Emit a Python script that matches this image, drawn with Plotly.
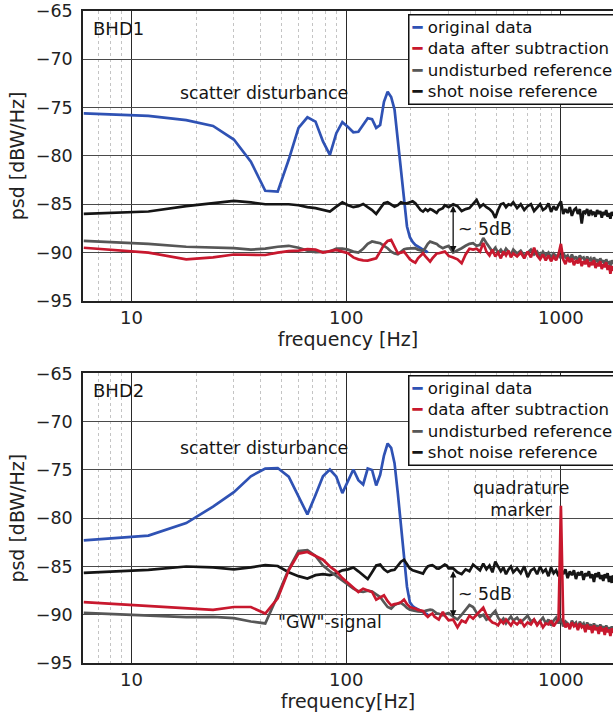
import math
import plotly.graph_objects as go

# ---------------- data ----------------
# frequency bins (Hz): 6 Hz spacing to 300 Hz, 15 Hz to 600 Hz, 25 Hz to 1750 Hz
FREQ = list(range(6, 301, 6)) + list(range(315, 601, 15)) + list(range(625, 1751, 25))

# ---- BHD1 ----
bhd1_original = [
    -75.6, -75.85, -76.3, -76.9, -78.3, -80.6, -83.6, -83.7, -80.4, -77.1,
    -76.0, -76.45, -78.5, -79.9, -77.65, -76.5, -77.0, -77.55, -77.5, -76.8,
    -76.1, -76.2, -77.1, -76.8, -74.4, -73.35, -73.9, -75.2, -78.3, -81.8,
    -84.5, -87.3, -88.4, -88.9, -89.2, -89.4, -89.6, -89.7, -89.8, -90.0]

bhd1_shot = [
    -86.0, -85.75, -85.2, -84.9, -84.65, -84.8, -85.0, -85.0, -85.0, -85.1,
    -85.3, -85.4, -85.55, -85.76, -85.25, -84.8, -85.1, -85.3, -85.2, -84.97,
    -85.3, -85.6, -86.0, -85.4, -84.9, -84.8, -85.0, -85.25, -85.1, -84.8,
    -84.9, -84.9, -84.8, -84.7, -84.9, -85.3, -85.6, -85.76, -85.5, -85.7,
    -85.5, -85.6, -85.8, -85.9, -85.6, -85.5, -85.4, -85.1, -85.2, -85.3,
    -85.0, -85.2, -85.7, -85.5, -85.4, -85.0, -84.55, -85.3, -85.0, -85.3,
    -85.5, -85.8, -86.4, -85.6, -85.0, -84.9, -85.3, -85.0, -85.1, -84.8,
    -85.4, -85.0, -85.6, -85.2, -85.0, -85.7, -85.3, -85.0, -85.6, -85.4,
    -84.9, -85.8, -85.2, -85.6, -85.1, -84.7, -86.0, -85.5, -85.9, -85.3,
    -86.2, -85.6, -85.4, -86.0, -85.5, -87.0, -85.7, -85.9, -85.5, -86.2,
    -85.6, -86.0, -85.8, -86.3, -85.6, -86.0, -85.7, -86.4, -85.8, -86.1,
    -85.6, -86.3, -85.9, -86.5, -85.8, -86.2]

bhd1_undisturbed = [
    -88.8, -89.1, -89.4, -89.45, -89.55, -89.7, -89.6, -89.4, -89.3, -89.5,
    -89.8, -89.96, -89.96, -89.9, -89.6, -89.6, -89.7, -89.9, -90.0, -89.6,
    -89.1, -88.85, -88.95, -89.03, -89.3, -89.55, -89.9, -90.1, -90.17, -89.9,
    -89.65, -89.6, -89.6, -89.55, -89.55, -89.7, -89.8, -89.83, -89.5, -89.1,
    -88.87, -88.95, -89.05, -89.1, -89.3, -89.45, -89.55, -89.45, -89.35, -89.31,
    -90.0, -89.8, -89.55, -89.3, -89.1, -89.03, -89.3, -89.2, -88.5, -89.0,
    -89.4, -89.9, -89.5, -90.0, -89.7, -90.1, -89.6, -89.9, -90.2, -89.7,
    -90.1, -89.8, -90.3, -90.0, -89.7, -90.2, -89.9, -90.4, -89.9, -90.3,
    -90.0, -90.5, -90.1, -90.4, -90.2, -90.6, -90.0, -90.5, -90.3, -90.8,
    -90.2, -90.7, -90.4, -90.9, -90.3, -90.6, -90.5, -91.0, -90.4, -90.8,
    -90.6, -91.1, -90.5, -90.9, -90.7, -91.2, -90.6, -91.0, -90.8, -91.3,
    -90.7, -91.1, -91.0, -91.4, -90.8, -91.2]

bhd1_subtracted = [
    -89.5, -90.0, -90.7, -90.5, -90.2, -90.2, -90.25, -90.0, -89.85, -89.8,
    -89.65, -89.7, -90.0, -89.85, -89.72, -89.9, -90.07, -90.5, -90.7, -90.8,
    -90.83, -90.7, -90.59, -89.9, -89.2, -88.8, -88.69, -89.4, -90.07, -90.0,
    -89.9, -90.3, -90.7, -90.9, -91.04, -90.6, -90.3, -90.07, -90.4, -90.7,
    -90.93, -90.6, -90.3, -90.1, -90.07, -90.0, -89.95, -89.9, -90.1, -90.35,
    -90.5, -90.7, -91.1, -90.2, -89.6, -89.7, -89.6, -89.9, -89.0, -89.9,
    -90.3, -89.7, -90.4, -90.0, -90.6, -89.9, -90.3, -89.8, -90.5, -90.1,
    -90.4, -90.0, -90.6, -89.9, -90.5, -89.5, -90.3, -90.7, -90.2, -90.8,
    -90.3, -90.9, -90.4, -90.8, -90.2, -89.1, -90.7, -91.2, -90.5, -91.0,
    -90.6, -91.3, -90.8, -91.1, -90.6, -91.4, -90.9, -91.2, -90.7, -91.5,
    -91.0, -91.3, -90.8, -91.6, -91.1, -91.4, -90.9, -91.7, -91.2, -91.5,
    -91.0, -91.8, -91.3, -92.2, -91.4, -91.9]

# ---- BHD2 ----
bhd2_original = [
    -82.3, -81.8, -80.5, -78.8, -77.3, -75.65, -74.85, -74.8, -75.7, -77.8,
    -79.6, -77.6, -75.65, -74.95, -75.7, -77.4, -76.06, -74.95, -76.06, -76.5,
    -74.85, -75.0, -76.6, -75.5, -73.5, -72.26, -72.7, -74.3, -77.4, -80.9,
    -84.4, -87.1, -88.7, -89.1, -89.3, -89.45, -89.55, -89.7, -89.8, -90.0]

bhd2_shot = [
    -85.67, -85.35, -85.0, -85.1, -85.3, -85.1, -84.85, -84.95, -85.6, -86.0,
    -86.25, -85.9, -85.8, -85.9, -85.7, -85.4, -85.3, -85.1, -85.5, -85.9,
    -86.3, -85.6, -84.9, -84.8, -85.3, -85.57, -85.4, -85.35, -84.9, -84.5,
    -84.3, -84.7, -85.2, -85.4, -85.5, -85.6, -85.7, -85.74, -85.3, -85.0,
    -84.9, -84.87, -85.0, -85.2, -85.22, -85.1, -84.9, -84.8, -84.9, -85.2,
    -85.2, -85.6, -85.8, -85.3, -85.5, -84.8, -85.1, -85.4, -84.7, -85.3,
    -84.9, -85.6, -84.5, -85.0, -85.5, -85.1, -85.8, -85.3, -85.0, -85.6,
    -85.2, -85.7, -85.0, -86.1, -85.4, -85.2, -85.8, -85.0, -85.6, -85.3,
    -86.0, -85.1, -85.7, -85.4, -86.0, -85.2, -85.8, -85.3, -86.2, -85.5,
    -85.9, -85.4, -86.3, -85.6, -85.9, -85.5, -86.4, -85.7, -86.0, -85.5,
    -86.2, -85.8, -86.6, -85.7, -86.1, -85.6, -86.3, -85.9, -86.5, -85.8,
    -86.2, -85.7, -86.6, -86.0, -86.7, -85.9]

bhd2_undisturbed = [
    -89.8, -90.1, -90.25, -90.23, -90.35, -90.7, -90.9, -88.0, -85.3, -83.4,
    -83.3, -83.9, -84.9, -85.5, -86.0, -86.5, -86.9, -87.3, -87.55, -87.64,
    -87.5, -87.6, -87.9, -88.16, -88.7, -89.2, -89.36, -89.0, -88.85, -88.78,
    -89.0, -89.3, -89.47, -89.5, -89.6, -89.65, -89.7, -89.71, -89.6, -89.5,
    -89.47, -89.5, -89.7, -89.85, -89.9, -90.0, -90.06, -89.95, -89.85, -89.82,
    -90.2, -90.5, -90.0, -89.5, -89.0, -89.2, -89.8, -90.2, -90.0, -90.5,
    -90.3, -89.9, -89.6, -90.3, -90.7, -90.4, -90.9, -90.5, -90.2, -90.6,
    -90.3, -90.8, -90.4, -90.1, -90.7, -90.5, -91.0, -90.6, -90.3, -90.9,
    -90.5, -91.1, -90.6, -90.3, -90.9, -90.4, -91.2, -90.7, -90.9, -91.3,
    -90.6, -91.0, -90.8, -91.4, -90.7, -91.1, -90.9, -91.5, -90.8, -91.2,
    -91.0, -91.6, -90.9, -91.3, -91.1, -91.7, -91.0, -91.4, -91.2, -91.8,
    -91.1, -91.5, -91.3, -91.9, -91.2, -91.6]

bhd2_subtracted = [
    -88.7, -89.1, -89.4, -89.5, -89.2, -89.2, -89.88, -88.3, -85.4, -83.66,
    -83.5, -83.9, -84.3, -85.0, -85.5, -86.2, -86.7, -87.2, -87.64, -87.3,
    -87.5, -87.64, -88.43, -88.2, -87.98, -88.6, -89.02, -88.9, -88.84, -88.7,
    -88.43, -88.9, -89.19, -89.3, -89.36, -89.5, -89.55, -89.61, -90.0, -90.23,
    -90.0, -89.88, -90.2, -90.4, -90.5, -90.1, -89.71, -90.1, -90.4, -90.57,
    -90.5, -91.3, -90.6, -90.8, -90.1, -90.4, -90.0, -89.6, -89.26, -90.0,
    -90.5, -90.8, -90.9, -91.1, -90.6, -90.9, -90.5, -90.8, -91.1, -90.7,
    -91.0, -90.6, -91.2, -90.8, -91.0, -90.5, -91.1, -90.7, -91.3, -90.9,
    -91.0, -90.6, -91.2, -90.8, -90.5, -78.7, -90.6, -91.3, -90.9, -91.5,
    -90.8, -91.2, -91.0, -91.6, -90.9, -91.3, -91.1, -91.8, -91.0, -91.5,
    -91.2, -91.9, -91.1, -91.6, -91.3, -92.0, -91.2, -91.7, -91.4, -92.1,
    -91.3, -91.8, -91.5, -92.2, -91.4, -91.9]

SERIES_NAMES = ["original data", "data after subtraction",
                "undisturbed reference", "shot noise reference"]
COLORS = {"original data": "#2f52b4", "data after subtraction": "#c8182e",
          "undisturbed reference": "#575757", "shot noise reference": "#151515"}

Y_TICKS = [-95, -90, -85, -80, -75, -70, -65]
X_TICKS = [10, 100, 1000]
X_TICKTEXT = ["10", "100", "1000"]
MINOR_X = [6, 7, 8, 9, 20, 30, 40, 50, 60, 70, 80, 90,
           200, 300, 400, 500, 600, 700, 800, 900]

FONT = "DejaVu Sans"

panels = [
    dict(xa="x", ya="y", label="BHD1", legend_y=0.9954,
         data={"original data": bhd1_original, "data after subtraction": bhd1_subtracted,
               "undisturbed reference": bhd1_undisturbed, "shot noise reference": bhd1_shot}),
    dict(xa="x2", ya="y2", label="BHD2", legend_y=0.4417,
         data={"original data": bhd2_original, "data after subtraction": bhd2_subtracted,
               "undisturbed reference": bhd2_undisturbed, "shot noise reference": bhd2_shot}),
]

fig = go.Figure()
draw_order = ["original data", "shot noise reference", "undisturbed reference", "data after subtraction"]
for p in panels:
    for name in draw_order:
        vals = p["data"][name]
        fig.add_trace(go.Scatter(
            x=FREQ[:len(vals)], y=vals, mode="lines", name=name,
            line=dict(color=COLORS[name], width=2.7),
            xaxis=p["xa"], yaxis=p["ya"], showlegend=False,
        ))

def xaxis_cfg(anchor, title):
    return dict(
        type="log", range=[0.7746, 3.2426], anchor=anchor, automargin=False,
        tickmode="array", tickvals=X_TICKS, ticktext=X_TICKTEXT,
        showgrid=True, gridcolor="#2a2a2a", gridwidth=1.2,
        minor=dict(tickmode="array", tickvals=MINOR_X, showgrid=True,
                   gridcolor="#c4c4c4", griddash="dot", gridwidth=1, ticks=""),
        showline=True, linecolor="#222", linewidth=1.5, mirror=True,
        ticks="", tickfont=dict(family=FONT, size=18, color="#222"),
        title=dict(text=title, font=dict(family=FONT, size=19, color="#222"), standoff=4),
        zeroline=False,
    )

def yaxis_cfg(anchor, domain):
    return dict(
        range=[-95, -65], domain=domain, anchor=anchor, automargin=False,
        tickmode="array", tickvals=Y_TICKS,
        showgrid=True, gridcolor="#4a4a4a", gridwidth=1.2,
        showline=True, linecolor="#222", linewidth=1.5, mirror=False,
        ticks="", ticklabelstandoff=5,
        tickfont=dict(family=FONT, size=17.5, color="#222"),
        title=dict(text="psd [dBW/Hz]", font=dict(family=FONT, size=19, color="#222"), standoff=6),
        zeroline=False,
    )

fig.update_layout(
    width=613, height=714,
    margin=dict(l=83, r=0, t=11, b=51),
    paper_bgcolor="white", plot_bgcolor="white",
    font=dict(family=FONT, color="#222"),
    xaxis=xaxis_cfg("y", "frequency [Hz]"),
    yaxis=yaxis_cfg("x", [0.5554, 1.0]),
    xaxis2=xaxis_cfg("y2", "frequency[Hz]"),
    yaxis2=yaxis_cfg("x2", [0.0, 0.4441]),
)

L = math.log10
ann_font = dict(family=FONT, size=17.3, color="#151515")

# legend key: one line per series, short coloured dash + name
legend_lines = []
for name in SERIES_NAMES:
    pad = "&nbsp;&nbsp;&nbsp;" if name == "data after subtraction" else ""
    legend_lines.append(f"<span style='color:{COLORS[name]}'>━</span> {name}{pad}")
legend_text = "<br>".join(legend_lines)

annotations = []
for p, sc_y, arrow_top, arrow_bot, db_y in [
        (panels[0], -73.5, -85.0, -90.0, -87.55),
        (panels[1], -72.74, -85.3, -90.2, -87.81)]:
    xr, yr = p["xa"], p["ya"]
    annotations.append(dict(text=legend_text, xref="paper", yref="paper",
                            x=0.6132, y=p["legend_y"], xanchor="left", yanchor="top",
                            align="left", showarrow=False, bgcolor="white",
                            bordercolor="#111", borderwidth=1.5, borderpad=2,
                            font=dict(family=FONT, size=16.6, color="#111")))
    annotations.append(dict(text=p["label"], xref=xr + " domain", yref=yr + " domain",
                            x=0.016, y=0.94, xanchor="left", yanchor="middle",
                            showarrow=False, font=dict(family=FONT, size=18, color="#151515")))
    annotations.append(dict(text="scatter disturbance", xref=xr, yref=yr,
                            x=L(41.3), y=sc_y, showarrow=False, font=ann_font))
    annotations.append(dict(text="", xref=xr, yref=yr, axref=xr, ayref=yr,
                            x=L(315), y=arrow_bot, ax=L(315), ay=arrow_top,
                            showarrow=True, arrowhead=2, arrowside="end+start",
                            arrowsize=1, arrowwidth=1.3, arrowcolor="#111",
                            standoff=0, startstandoff=0))
    annotations.append(dict(text="~ 5dB", xref=xr, yref=yr, x=L(325), y=db_y,
                            xanchor="left", showarrow=False, font=ann_font))

annotations.append(dict(text="quadrature<br>marker", xref="x2", yref="y2",
                        x=L(650), y=-78.0, showarrow=False, font=ann_font, align="center"))
annotations.append(dict(text='"GW"-signal', xref="x2", yref="y2",
                        x=L(47.3), y=-90.73, xanchor="left", showarrow=False, font=ann_font))
fig.update_layout(annotations=annotations)

# remove the default 8px page margin so the figure starts at the window's corner
fig.write_html("out.html", config={"displayModeBar": False},
               post_script="document.body.style.margin='0';")
